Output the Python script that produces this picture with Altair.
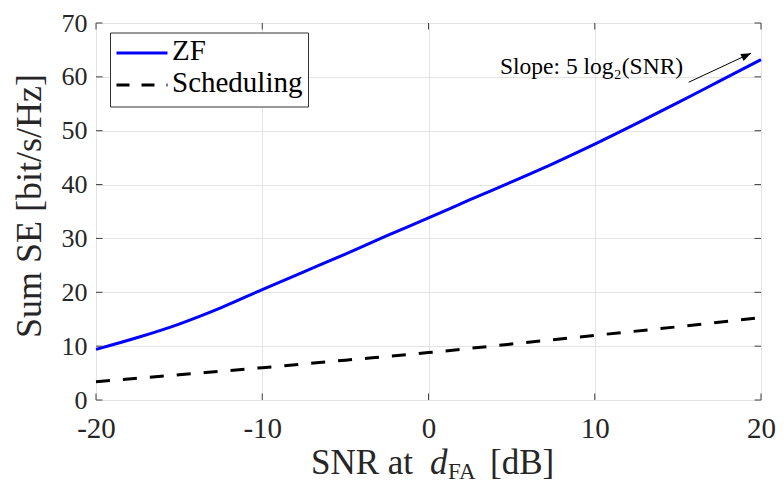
import altair as alt
import pandas as pd

# ---- data ----
zf_snr = [-20, -17.5, -15, -12.5, -10, -7.5, -5, -2.5, 0, 2.5, 5, 7.5, 10, 12.5, 15, 17.5, 20]
zf_se = [9.4, 11.6, 14.1, 17.1, 20.5, 23.8, 27.1, 30.5, 33.8, 37.2, 40.5, 43.9, 47.5, 51.3, 55.2, 59.2, 63.2]
sched_snr = [-20, -15, -10, -5, 0, 5, 10, 15, 20]
sched_se = [3.4, 4.7, 6.0, 7.4, 8.8, 10.4, 12.0, 13.6, 15.3]
x_ticks = [-20, -10, 0, 10, 20]
y_ticks = [0, 10, 20, 30, 40, 50, 60, 70]
legend_names = ["ZF", "Scheduling"]
annot_text = ["Slope: 5 log\u2082(SNR)"]
annot_pos = {"x": [4.3], "y": [60.6]}
arrow = {"x": [15.65], "y": [59.0], "x2": [19.4], "y2": [64.4]}

W, H = 665, 377
LEFT = 88
TOP = 15
RIGHT = 768 - LEFT - W
BOTTOM = 475 - TOP - H
FONT = "Liberation Serif"
AX = "#404040"
GRID = "#e3e3e3"
TXT = "#262626"

xs = alt.Scale(domain=[-20, 20], nice=False, zero=False)
ys = alt.Scale(domain=[0, 70], nice=False, zero=False)

x_axis = alt.Axis(values=x_ticks, labelExpr="'' + datum.value", title=None,
                  ticks=False, domain=False, grid=True, gridColor=GRID, gridWidth=1,
                  labelFont=FONT, labelFontSize=29, labelColor=TXT, labelPadding=14,
                  labelFlush=False)
y_axis = alt.Axis(values=y_ticks, labelExpr="'' + datum.value", title="Sum SE [bit/s/Hz]",
                  ticks=False, domain=False, grid=True, gridColor=GRID, gridWidth=1,
                  labelFont=FONT, labelFontSize=26, labelColor=TXT, labelPadding=9,
                  labelFlush=False,
                  titleFont=FONT, titleFontSize=36, titleFontWeight="normal", titleColor=TXT,
                  titleAngle=270, titleX=-56, titleY=H / 2 - 6, titleAlign="center",
                  titleBaseline="alphabetic")

zf_df = pd.DataFrame({"snr": zf_snr, "se": zf_se})
sc_df = pd.DataFrame({"snr": sched_snr, "se": sched_se})

zf = alt.Chart(zf_df).mark_line(color="#0000ff", strokeWidth=3, interpolate="monotone").encode(
    x=alt.X("snr:Q", scale=xs, axis=x_axis),
    y=alt.Y("se:Q", scale=ys, axis=y_axis),
)
sc = alt.Chart(sc_df).mark_line(color="#000000", strokeWidth=3, strokeDash=[14, 13],
                                interpolate="monotone").encode(
    x=alt.X("snr:Q", scale=xs),
    y=alt.Y("se:Q", scale=ys),
)

# inward ticks on all four sides
xt = pd.DataFrame({"v": x_ticks})
yt = pd.DataFrame({"v": y_ticks})
TL = 6.5
tick_kw = dict(color=AX, strokeWidth=1)
tb = alt.Chart(xt).mark_rule(**tick_kw).encode(x=alt.X("v:Q", scale=xs), y=alt.value(H), y2=alt.value(H - TL))
tt = alt.Chart(xt).mark_rule(**tick_kw).encode(x=alt.X("v:Q", scale=xs), y=alt.value(0), y2=alt.value(TL))
tl = alt.Chart(yt).mark_rule(**tick_kw).encode(y=alt.Y("v:Q", scale=ys), x=alt.value(0), x2=alt.value(TL))
tr = alt.Chart(yt).mark_rule(**tick_kw).encode(y=alt.Y("v:Q", scale=ys), x=alt.value(W), x2=alt.value(W - TL))

# annotation + arrow
ann = alt.Chart(pd.DataFrame({"t": annot_text, **annot_pos})).mark_text(
    font=FONT, fontSize=23.5, align="left", baseline="alphabetic", color="#000000"
).encode(x=alt.X("x:Q", scale=xs), y=alt.Y("y:Q", scale=ys), text="t:N")
arr_df = pd.DataFrame(arrow)
arr_line = alt.Chart(arr_df).mark_rule(color="#000000", strokeWidth=1).encode(
    x=alt.X("x:Q", scale=xs), y=alt.Y("y:Q", scale=ys), x2="x2:Q", y2="y2:Q")
arr_head = alt.Chart(arr_df).mark_point(
    shape="M0,0 L-0.38,1 L0.38,1 Z", size=400, filled=True, color="#000000", opacity=1,
    angle=64.5, strokeWidth=0
).encode(x=alt.X("x2:Q", scale=xs), y=alt.Y("y2:Q", scale=ys))

# legend (boxed, MATLAB style); page coordinates minus plot origin
dy = 8 + TOP
dx = 8 + LEFT
one = pd.DataFrame({"a": [0]})
leg_box = alt.Chart(one).mark_rect(
    fill="white", stroke="#333333", strokeWidth=1
).encode(x=alt.value(110.5 - dx), x2=alt.value(308.5 - dx), y=alt.value(33 - dy), y2=alt.value(107 - dy))
leg_zf = alt.Chart(one).mark_rule(color="#0000ff", strokeWidth=3).encode(
    x=alt.value(116.5 - dx), x2=alt.value(167.5 - dx), y=alt.value(53 - dy))
leg_sc = alt.Chart(one).mark_rule(color="#000000", strokeWidth=3,
                                  strokeDash=[13, 12]).encode(
    x=alt.value(116.5 - dx), x2=alt.value(167.5 - dx), y=alt.value(85 - dy))
leg_txt1 = alt.Chart(pd.DataFrame({"t": [legend_names[0]]})).mark_text(
    font=FONT, fontSize=29, align="left", baseline="alphabetic", color="#000000"
).encode(x=alt.value(172 - dx), y=alt.value(60 - dy), text="t:N")
leg_txt2 = alt.Chart(pd.DataFrame({"t": [legend_names[1]]})).mark_text(
    font=FONT, fontSize=29, align="left", baseline="alphabetic", color="#000000"
).encode(x=alt.value(172 - dx), y=alt.value(92 - dy), text="t:N")


# x-axis title with italic d and subscript FA (page coordinates minus plot origin)
def txt(s, x, y, size, style="normal"):
    return alt.Chart(pd.DataFrame({"t": [s]})).mark_text(
        font=FONT, fontSize=size, fontStyle=style, align="left", baseline="alphabetic",
        color=TXT
    ).encode(x=alt.value(x - dx), y=alt.value(y - dy), text="t:N")


xt1 = txt("SNR at", 311, 474, 35)
xt2 = txt("d", 430, 474, 35, "italic")
xt3 = txt("FA", 448, 479, 23)
xt4 = txt("[dB]", 490, 474, 35)

chart = alt.layer(
    zf, sc, tb, tt, tl, tr, ann, arr_line, arr_head,
    leg_box, leg_zf, leg_sc, leg_txt1, leg_txt2,
    xt1, xt2, xt3, xt4
).properties(
    width=W, height=H,
    autosize=alt.AutoSizeParams(type="none"),
    padding={"left": LEFT, "top": TOP, "right": RIGHT, "bottom": BOTTOM},
).configure_view(stroke=AX, strokeWidth=1).configure(background="white")

chart.save("out.html", embed_options={"renderer": "svg", "actions": False})
